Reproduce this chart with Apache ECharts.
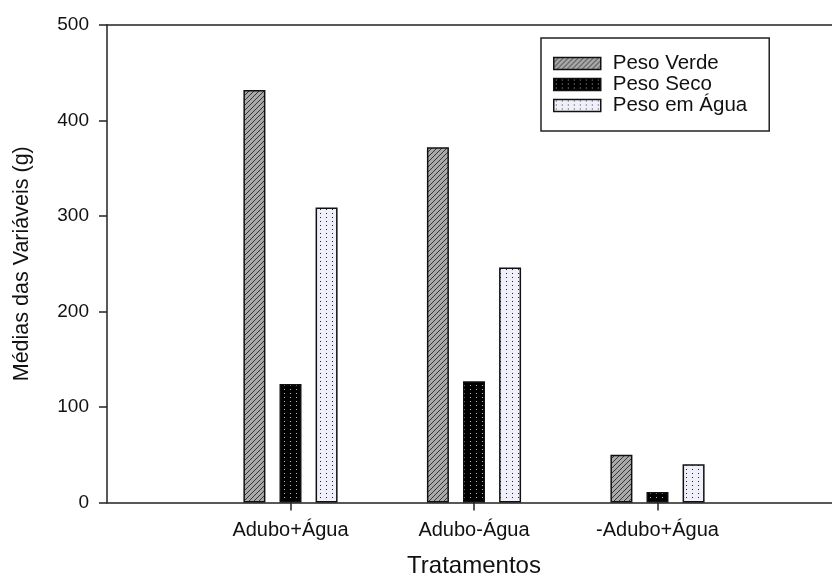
<!DOCTYPE html>
<html>
<head>
<meta charset="utf-8">
<script src="https://cdn.jsdelivr.net/npm/echarts@6/dist/echarts.min.js"></script>
<style>
  html, body { margin: 0; padding: 0; background: #fff; }
  #chart { width: 832px; height: 577px; }
</style>
</head>
<body>
<div id="chart"></div>
<script>
const categories = ['Adubo+Água', 'Adubo-Água', '-Adubo+Água'];
const pesoVerde = [432, 372, 50];
const pesoSeco = [124, 127, 11];
const pesoAgua = [309, 246, 40];
const yTicks = [0, 100, 200, 300, 400, 500];

// empty slots at both ends so the groups sit at 1, 2, 3 on a 0..4 axis
const slots = ['', ...categories, ''];
const padded = (values) => [null, ...values, null];

const makePattern = (w, h, draw) => {
  const c = document.createElement('canvas');
  c.width = w;
  c.height = h;
  draw(c.getContext('2d'));
  return { image: c, repeat: 'repeat' };
};

const hatch = makePattern(5, 5, (ctx) => {
  ctx.fillStyle = '#a9a9a9';
  ctx.fillRect(0, 0, 5, 5);
  ctx.strokeStyle = '#353535';
  ctx.lineWidth = 1;
  ctx.beginPath();
  ctx.moveTo(-1, 6); ctx.lineTo(6, -1);
  ctx.moveTo(-1, 1); ctx.lineTo(1, -1);
  ctx.moveTo(4, 6); ctx.lineTo(6, 4);
  ctx.stroke();
});

const darkDots = makePattern(6, 4, (ctx) => {
  ctx.fillStyle = '#000';
  ctx.fillRect(0, 0, 6, 4);
  ctx.fillStyle = '#b8b8b8';
  ctx.fillRect(2, 1, 1, 1);
});

const lightDots = makePattern(6, 4, (ctx) => {
  ctx.fillStyle = '#f0f0fa';
  ctx.fillRect(0, 0, 6, 4);
  ctx.fillStyle = '#222';
  ctx.fillRect(2, 1, 1, 1);
});

const font = 'Liberation Sans, Arial, sans-serif';
const axisLine = { show: true, lineStyle: { color: '#222', width: 1.5 } };
const barBorder = { borderColor: '#111', borderWidth: 1.5 };

const chart = echarts.init(document.getElementById('chart'), null, { renderer: 'canvas' });

chart.setOption({
  backgroundColor: '#fff',
  animation: false,
  textStyle: { fontFamily: font, color: '#111' },
  // the right end of the axis runs past the picture edge, so no auto-fit
  grid: { left: 107, top: 25, width: 734, height: 477.5, outerBoundsMode: 'none', containLabel: false },
  legend: {
    orient: 'vertical',
    left: 541,
    top: 38,
    padding: [15, 22, 15, 12],
    borderColor: '#222',
    borderWidth: 1.5,
    icon: 'rect',
    itemWidth: 47,
    itemHeight: 12,
    itemGap: 0,
    itemStyle: { borderColor: '#111', borderWidth: 1.5 },
    textStyle: { fontFamily: font, fontSize: 20.5, color: '#111', lineHeight: 20.5, padding: [0, 0, 0, 7] },
    data: ['Peso Verde', 'Peso Seco', 'Peso em Água']
  },
  xAxis: [
    {
      type: 'category',
      data: slots,
      boundaryGap: false,
      axisLine,
      axisTick: {
        interval: (i) => i >= 1 && i <= categories.length,
        length: 8,
        lineStyle: { color: '#222', width: 1.5 }
      },
      axisLabel: { interval: 0, fontSize: 20, margin: 18, color: '#111', fontFamily: font },
      name: 'Tratamentos',
      nameLocation: 'middle',
      nameGap: 52,
      nameTextStyle: { fontSize: 24, color: '#111', fontFamily: font },
      splitLine: { show: false }
    },
    {
      type: 'category',
      position: 'top',
      data: slots,
      boundaryGap: false,
      axisLine,
      axisTick: { show: false },
      axisLabel: { show: false },
      splitLine: { show: false }
    }
  ],
  yAxis: {
    type: 'value',
    min: yTicks[0],
    max: yTicks[yTicks.length - 1],
    interval: 100,
    axisLine,
    axisTick: { show: true, length: 8, lineStyle: { color: '#222', width: 1.5 } },
    axisLabel: { fontSize: 19, margin: 18, color: '#111', fontFamily: font },
    splitLine: { show: false },
    name: 'Médias das Variáveis (g)',
    nameLocation: 'middle',
    nameGap: 74,
    nameTextStyle: { fontSize: 21.5, color: '#111', fontFamily: font }
  },
  series: [
    {
      name: 'Peso Verde',
      type: 'bar',
      barWidth: 22,
      barGap: '64%',
      data: padded(pesoVerde),
      itemStyle: { color: hatch, ...barBorder }
    },
    {
      name: 'Peso Seco',
      type: 'bar',
      barWidth: 22,
      barGap: '64%',
      data: padded(pesoSeco),
      itemStyle: { color: darkDots, ...barBorder }
    },
    {
      name: 'Peso em Água',
      type: 'bar',
      barWidth: 22,
      barGap: '64%',
      data: padded(pesoAgua),
      itemStyle: { color: lightDots, ...barBorder }
    }
  ]
});
</script>
</body>
</html>
